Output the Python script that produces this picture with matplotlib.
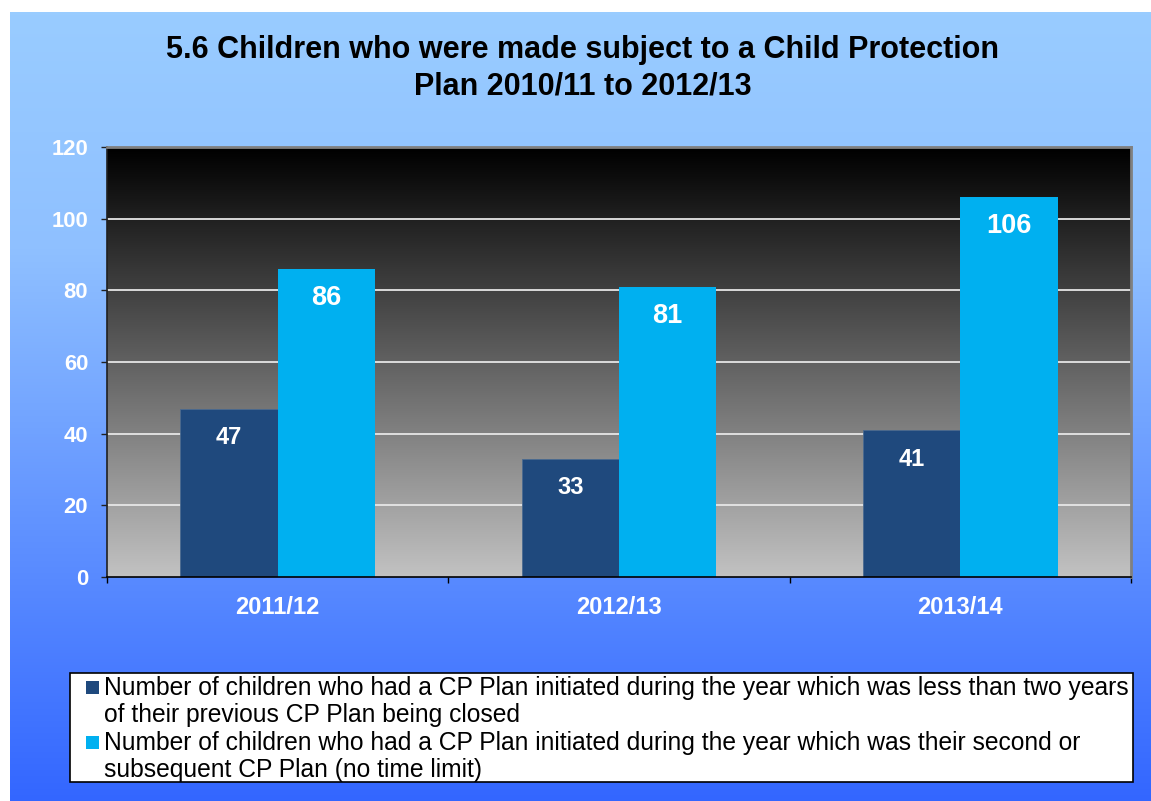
import numpy as np
import matplotlib
matplotlib.use("Agg")
import matplotlib.pyplot as plt
from matplotlib.colors import LinearSegmentedColormap
from matplotlib.patches import Rectangle

plt.rcParams['font.family'] = ['Liberation Sans', 'DejaVu Sans']

# data
years = ['2011/12', '2012/13', '2013/14']
within_two_years = [47, 33, 41]
second_or_subsequent = [86, 81, 106]
series_labels = [
    'Number of children who had a CP Plan initiated during the year which was less than two years\nof their previous CP Plan being closed',
    'Number of children who had a CP Plan initiated during the year which was their second or\nsubsequent CP Plan (no time limit)',
]
series_colors = ['#1F497D', '#00B0F0']
title = '5.6 Children who were made subject to a Child Protection\nPlan 2010/11 to 2012/13'

W, H = 1151, 801
fig = plt.figure(figsize=(W / 100, H / 100), dpi=100)
fig.patch.set_facecolor('white')

# blue gradient panel behind everything
bg = fig.add_axes([10 / W, 0, (W - 10) / W, (H - 12) / H], zorder=-5)
bg_cmap = LinearSegmentedColormap.from_list(
    'bg', [(0, '#99CCFF'), (0.3, '#8FC0FF'), (1.0, '#3366FF')])
bg.imshow(np.linspace(0, 1, 256).reshape(-1, 1), cmap=bg_cmap, aspect='auto',
          extent=[0, 1, 0, 1])
bg.set_axis_off()

# plot area
ax = fig.add_axes([107 / W, 1 - 577 / H, (1131 - 107) / W, (577 - 147) / H])
ax.set_xlim(-0.5, 2.5)
ax.set_ylim(0, 120)
pa_cmap = LinearSegmentedColormap.from_list('pa', ['#000000', '#C2C2C2'])
ax.imshow(np.linspace(0, 1, 256).reshape(-1, 1), cmap=pa_cmap, aspect='auto',
          extent=[-0.5, 2.5, 0, 120], zorder=0)

for yv in range(20, 120, 20):
    ax.axhline(yv, color='#E6E6E6', lw=1.3, zorder=1)

x = np.arange(len(years))
w = 0.285
b1 = ax.bar(x - w / 2, within_two_years, w, color=series_colors[0],
            edgecolor='#4A6A90', lw=0.6, zorder=2)
b2 = ax.bar(x + w / 2, second_or_subsequent, w, color=series_colors[1],
            zorder=2)

for bars, fs in ((b1, 17), (b2, 19.5)):
    for r in bars:
        ax.annotate(f'{int(r.get_height())}',
                    (r.get_x() + r.get_width() / 2, r.get_height()),
                    xytext=(0, -21), textcoords='offset points',
                    ha='center', va='center', color='white',
                    fontsize=fs, fontweight='bold', zorder=3)

# axes styling
for s in ('top', 'right'):
    ax.spines[s].set_color('#808080')
    ax.spines[s].set_linewidth(2)
ax.spines['left'].set_color('#202020')
ax.spines['bottom'].set_color('#000000')
ax.spines['left'].set_linewidth(1.2)
ax.spines['bottom'].set_linewidth(1.2)

ax.set_yticks(range(0, 121, 20))
ax.tick_params(axis='y', length=4.5, width=1, color='#202020', pad=9,
               labelsize=15.8, labelcolor='white')
ax.set_xticks(x)
ax.set_xticklabels(years)
ax.set_xticks([-0.5, 0.5, 1.5, 2.5], minor=True)
ax.tick_params(axis='x', which='major', length=0, pad=14, labelsize=17,
               labelcolor='white')
ax.tick_params(axis='x', which='minor', length=4.5, width=1, color='#000000')
for lab in ax.get_xticklabels() + ax.get_yticklabels():
    lab.set_fontweight('bold')

# title
fig.text(583 / W, 1 - 68 / H, title, ha='center', va='center',
         fontsize=22, fontweight='bold', color='black', linespacing=1.3)

# legend box (drawn by hand so swatches align with first line)
fig.patches.append(Rectangle((70 / W, 1 - 782 / H), (1133 - 70) / W, 109 / H,
                             transform=fig.transFigure, facecolor='white',
                             edgecolor='black', lw=1.2))
for i, (lab, col) in enumerate(zip(series_labels, series_colors)):
    top = 681 + i * 55
    fig.patches.append(Rectangle((86 / W, 1 - (top + 13) / H), 13 / W, 13 / H,
                                 transform=fig.transFigure, facecolor=col,
                                 edgecolor='none'))
    fig.text(104 / W, 1 - (701.5 + i * 55) / H, lab, ha='left', va='center',
             fontsize=17.7, color='black', linespacing=1.15)

fig.savefig('out.png', dpi=100)
